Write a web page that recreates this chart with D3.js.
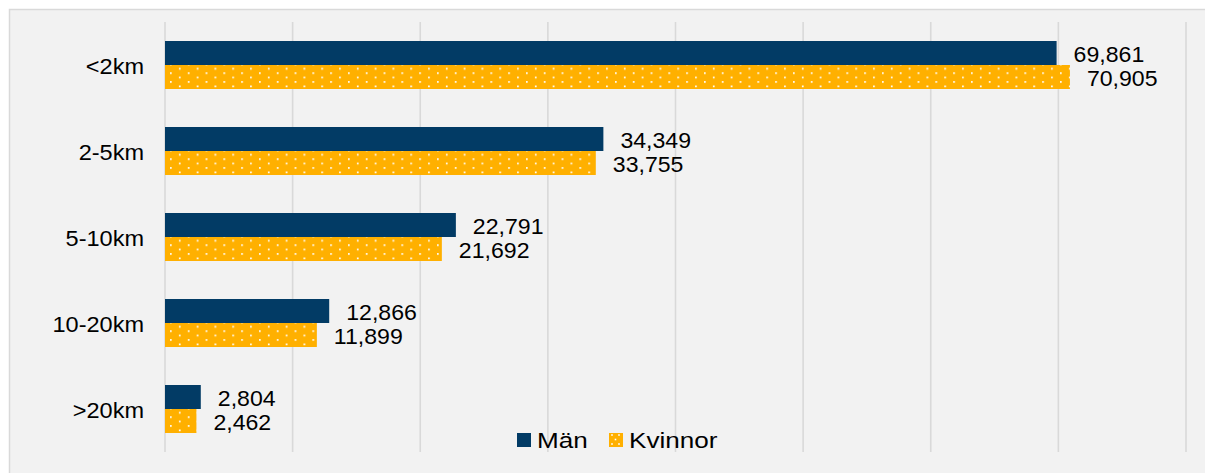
<!DOCTYPE html>
<html>
<head>
<meta charset="utf-8">
<script src="https://cdn.jsdelivr.net/npm/d3@7"></script>
<style>
  body { margin: 0; background: #fff; }
  text { font-family: "Liberation Sans", Arial, sans-serif; fill: #000; }
</style>
</head>
<body>
<div id="vis1"></div>
<script>
// data
let categories = ['<2km', '2-5km', '5-10km', '10-20km', '>20km']
let man = [69861, 34349, 22791, 12866, 2804]
let kvinnor = [70905, 33755, 21692, 11899, 2462]
let seriesNames = ['Män', 'Kvinnor']
let xTicks = [0, 10000, 20000, 30000, 40000, 50000, 60000, 70000, 80000]

let width = 1205, height = 473
let plot = { left: 165, right: 1186, top: 22, bottom: 452 }

let navy = '#023b65', gold = '#ffb000'

let svg = d3.select('#vis1')
  .append('svg')
  .attr('width', width)
  .attr('height', height)

// dotted fill for the Kvinnor bars
let defs = svg.append('defs')
let pat = defs.append('pattern')
  .attr('id', 'dots')
  .attr('patternUnits', 'userSpaceOnUse')
  .attr('x', 170)
  .attr('y', 66.5)
  .attr('width', 17.8)
  .attr('height', 8.8)
pat.append('rect').attr('width', 17.8).attr('height', 8.8).attr('fill', gold)
pat.append('rect').attr('x', 0).attr('y', 0).attr('width', 1.7).attr('height', 1.7).attr('fill', '#fff')
pat.append('rect').attr('x', 8.9).attr('y', 4.4).attr('width', 1.7).attr('height', 1.7).attr('fill', '#fff')

// chart area (runs off the right and bottom of the picture)
svg.append('rect')
  .attr('x', 9.5)
  .attr('y', 9.5)
  .attr('width', 1300)
  .attr('height', 600)
  .attr('fill', '#f2f2f2')
  .attr('stroke', '#d9d9d9')
  .attr('stroke-width', 1.5)

let x = d3.scaleLinear()
  .domain([0, 80000])
  .range([plot.left, plot.right])

let y = d3.scaleBand()
  .domain(categories)
  .range([plot.top, plot.bottom])
  .paddingInner(0.442)
  .paddingOuter(0.221)

let y2 = d3.scaleBand()
  .domain(seriesNames)
  .range([0, y.bandwidth()])

// vertical gridlines
svg.append('g')
  .selectAll('line')
  .data(xTicks)
  .join('line')
  .attr('x1', d => x(d))
  .attr('x2', d => x(d))
  .attr('y1', plot.top)
  .attr('y2', plot.bottom)
  .attr('stroke', '#d9d9d9')
  .attr('stroke-width', 1.6)

// category labels
svg.append('g')
  .selectAll('text')
  .data(categories)
  .join('text')
  .attr('transform', d => 'translate(' + 144 + ',' + (y(d) + y.bandwidth() / 2 + 1) + ') scale(1.07,1)')
  .attr('text-anchor', 'end')
  .attr('dy', '0.35em')
  .style('font-size', '22px')
  .text(d => d)

let rows = categories.map((c, i) => ({ cat: c, values: [man[i], kvinnor[i]] }))
let fmt = d3.format(',')

let groups = svg.append('g')
  .selectAll('g')
  .data(rows)
  .join('g')
  .attr('transform', d => 'translate(0,' + y(d.cat) + ')')

groups.selectAll('rect')
  .data(d => d.values.map((v, j) => ({ name: seriesNames[j], value: v })))
  .join('rect')
  .attr('x', x(0))
  .attr('y', d => y2(d.name))
  .attr('width', d => x(d.value) - x(0))
  .attr('height', y2.bandwidth())
  .attr('fill', d => d.name === 'Män' ? navy : 'url(#dots)')

groups.selectAll('text')
  .data(d => d.values.map((v, j) => ({ name: seriesNames[j], value: v })))
  .join('text')
  .attr('transform', d => 'translate(' + (x(d.value) + 17) + ',' + (y2(d.name) + y2.bandwidth() / 2 + 1) + ') scale(1.05,1)')
  .attr('dy', '0.35em')
  .style('font-size', '22px')
  .text(d => fmt(d.value))

// legend
let legend = svg.append('g')
  .selectAll('g')
  .data(seriesNames)
  .join('g')
  .attr('transform', (d, i) => 'translate(' + (i === 0 ? 517 : 609) + ',433)')

legend.append('rect')
  .attr('width', 14)
  .attr('height', 14)
  .attr('fill', d => d === 'Män' ? navy : gold)

legend.filter(d => d === 'Kvinnor').selectAll('.dot')
  .data([[3, 2], [10, 2], [6.5, 6.5], [3, 11], [10, 11]])
  .join('rect')
  .attr('x', d => d[0] - 0.8)
  .attr('y', d => d[1] - 0.8)
  .attr('width', 1.6)
  .attr('height', 1.6)
  .attr('fill', '#fff')

legend.append('text')
  .attr('transform', 'translate(20,7.5) scale(1.16,1)')
  .attr('dy', '0.35em')
  .style('font-size', '22.5px')
  .text(d => d)
</script>
</body>
</html>
